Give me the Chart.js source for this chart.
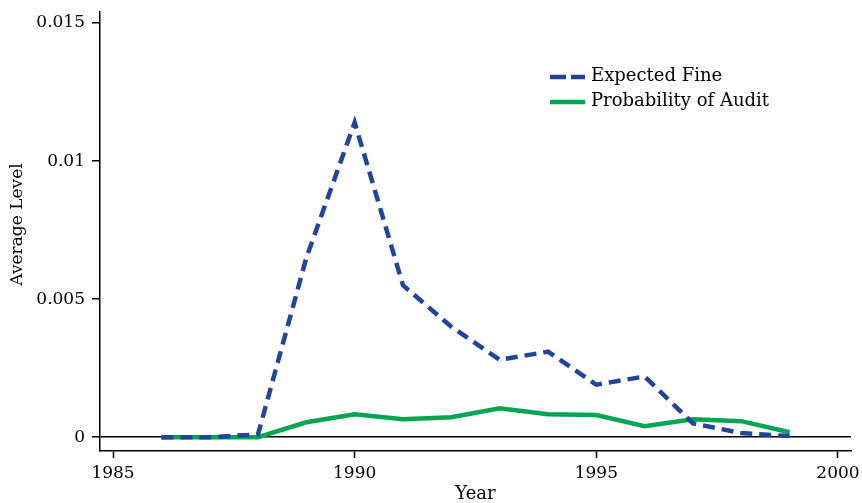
<!DOCTYPE html>
<html><head><meta charset="utf-8">
<script src="https://cdn.jsdelivr.net/npm/chart.js@4/dist/chart.umd.min.js"></script>
<style>html,body{margin:0;padding:0;background:#fff}#wrap{width:862px;height:503px}</style>
</head><body><div id="wrap"><canvas id="c" width="862" height="503"></canvas></div>
<script>
const years = [1986,1987,1988,1989,1990,1991,1992,1993,1994,1995,1996,1997,1998,1999];
const expectedFine = [0,0,0.0001,0.0065,0.0114,0.0055,0.0040,0.0028,0.0031,0.0019,0.0022,0.0005,0.00015,0.00004];
const probAudit = [0,0,0,0.00054,0.00083,0.00065,0.00072,0.00105,0.00083,0.0008,0.0004,0.00065,0.00058,0.00018];
const seriesLabels = ['Expected Fine','Probability of Audit'];
const xTicks = [1985,1990,1995,2000];
const yTicks = [0,0.005,0.01,0.015];
const yTickLabels = ['0','0.005','0.01','0.015'];
const xTitle = 'Year';
const yTitle = 'Average Level';

const FAMILY = 'DejaVu Serif';
const TICK_FONT = {family:FAMILY, size:17};
const BLUE = '#22449a';
const GREEN = '#00a651';

const overlayPlugin = {
  id:'overlay',
  afterDraw(chart){
    const ctx = chart.ctx, ca = chart.chartArea;
    ctx.save();
    ctx.fillStyle = '#000';
    ctx.font = '17px ' + FAMILY;
    ctx.textAlign = 'center';
    ctx.textBaseline = 'middle';
    ctx.translate(18, (ca.top + ca.bottom) / 2 - 7);
    ctx.rotate(-Math.PI / 2);
    ctx.fillText(yTitle, 0, 0);
    ctx.restore();
    const x0 = ca.left + 450, x1 = ca.left + 485, tx = ca.left + 491;
    const rows = [ca.top + 65, ca.top + 90];
    chart.data.datasets.forEach((ds,i)=>{
      ctx.save();
      ctx.strokeStyle = ds.borderColor;
      ctx.lineWidth = ds.borderWidth;
      ctx.setLineDash(ds.borderDash ? [16,5] : []);
      ctx.lineCap = 'butt';
      ctx.beginPath(); ctx.moveTo(x0, rows[i]); ctx.lineTo(x1, rows[i]); ctx.stroke();
      ctx.setLineDash([]);
      ctx.fillStyle = '#000';
      ctx.font = '18px ' + FAMILY;
      ctx.textBaseline = 'middle';
      ctx.textAlign = 'left';
      ctx.fillText(ds.label, tx, rows[i] - 1);
      ctx.restore();
    });
  }
};

new Chart(document.getElementById('c'), {
  type:'line',
  data:{
    datasets:[
      {label:seriesLabels[0], data:years.map((y,i)=>({x:y,y:expectedFine[i]})), borderColor:BLUE, borderWidth:4.5, borderDash:[12,7], pointRadius:0, tension:0, fill:false},
      {label:seriesLabels[1], data:years.map((y,i)=>({x:y,y:probAudit[i]})), borderColor:GREEN, borderWidth:4.5, pointRadius:0, tension:0, fill:false}
    ]
  },
  options:{
    responsive:false, animation:false,
    layout:{padding:{top:12,right:11,left:0,bottom:0}},
    plugins:{legend:{display:false}, tooltip:{enabled:false}},
    scales:{
      x:{type:'linear', min:1984.73, max:2000.27,
        afterBuildTicks:s=>{s.ticks = xTicks.map(v=>({value:v}));},
        afterFit:s=>{s.height = 52; s.paddingLeft = 0; s.paddingRight = 0;},
        ticks:{font:TICK_FONT, color:'#000', padding:5, maxRotation:0, callback:v=>String(v)},
        grid:{drawOnChartArea:false, tickLength:7, tickColor:'#000', tickWidth:1.5},
        border:{color:'#000', width:1.5},
        title:{display:true, text:xTitle, font:{family:FAMILY, size:18}, color:'#000', padding:{top:0,bottom:-2}}
      },
      y:{type:'linear', min:-0.0005, max:0.0154,
        afterBuildTicks:s=>{s.ticks = yTicks.map(v=>({value:v}));},
        afterFit:s=>{s.width = 100; s.paddingTop = 0; s.paddingBottom = 0;},
        ticks:{font:TICK_FONT, color:'#000', padding:7, callback:(v)=>{const i=yTicks.indexOf(v);return i>=0?yTickLabels[i]:'';}},
        grid:{drawOnChartArea:true, tickLength:8, tickColor:'#000', tickWidth:1.5,
          color:c=>(c.tick && c.tick.value===0)?'#000':'rgba(0,0,0,0)', lineWidth:1.5},
        border:{color:'#000', width:1.5},
        title:{display:false}
      }
    }
  },
  plugins:[overlayPlugin]
});
</script></body></html>
